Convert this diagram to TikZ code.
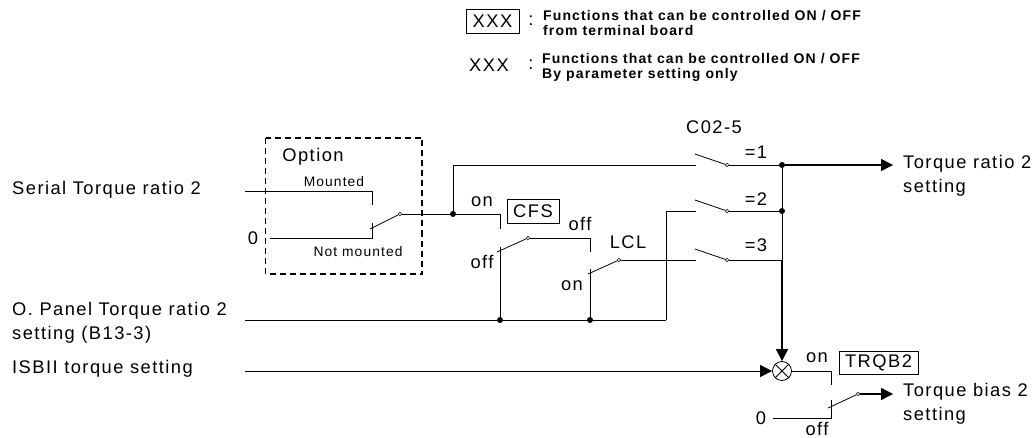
\documentclass[tikz,border=0pt]{standalone}
\usepackage{fontspec}
\setmainfont{Liberation Sans}[LetterSpace=8]
\usetikzlibrary{arrows.meta}
\tikzset{
  wire/.style={line width=0.8pt},
  bus/.style={line width=1pt},
  flow/.style={line width=1.4pt, -{Triangle[length=12pt,width=12pt]}},
  dashbox/.style={line width=1.5pt, dash pattern=on 6pt off 4pt},
  lbl/.style={font=\fontsize{18.3}{24.5}\selectfont, inner sep=0pt},
  lblsmall/.style={font=\fontsize{13.8}{14}\selectfont, inner sep=0pt},
  notebold/.style={font=\fontsize{14}{14.3}\selectfont\bfseries, inner sep=0pt, anchor=west, align=left},
  tagbox/.style={draw, line width=0.7pt, inner sep=0pt, font=\fontsize{18.3}{18.3}\selectfont},
  contact/.style={circle, draw, fill=white, line width=0.6pt, inner sep=0pt, minimum size=3.5pt},
  joint/.style={circle, fill=black, inner sep=0pt, minimum size=6pt}
}

\begin{document}
\begin{tikzpicture}[x=1pt,y=-1pt]
\useasboundingbox (0,0) rectangle (1035,438);

% Legend
\node[tagbox, minimum width=53pt, minimum height=24pt] (legendbox) at (492.5,21) {XXX};
\node[lbl] (legendcolona) at (531,21) {:};
\node[notebold] (legenda) at (543,23) {Functions that can be controlled ON / OFF\\from terminal board};
\node[lbl] (legendplain) at (489,65) {XXX};
\node[lbl] (legendcolonb) at (531,65) {:};
\node[notebold] (legendb) at (542,67.5) {Functions that can be controlled ON / OFF\\By parameter setting only};

% Left labels
\node[lbl, anchor=west] (serial) at (12,190) {Serial Torque ratio 2};
\node[lbl, anchor=west, align=left] (panel) at (12,323) {O. Panel Torque ratio 2\\setting (B13-3)};
\node[lbl, anchor=west] (isbii) at (12,369) {ISBII torque setting};
\node[lbl] (zeroa) at (253,238) {0};

% Option box
\draw[dashbox] (265.5,138) rectangle (422,274);
\node[lbl] (option) at (313,157) {Option};
\node[lblsmall] (mounted) at (334,182) {Mounted};
\node[lblsmall] (notmounted) at (358,252) {Not mounted};

\coordinate (sera) at (245,191);
\coordinate (serb) at (372,191);
\coordinate (serc) at (372,205);
\coordinate (zra) at (270,238);
\coordinate (zrb) at (372,238);
\coordinate (zrc) at (372,223);
\coordinate (opta) at (370,229);
\node[contact] (optc) at (400,214) {};
\node[joint] (jopt) at (453,214) {};

\draw[wire] (sera) -- (serb) -- (serc);
\draw[wire] (zra) -- (zrb) -- (zrc);
\draw[wire] (opta) -- (optc);
\draw[wire] (optc) -- (jopt);

% CFS switch
\node[lbl] (cfson) at (482,202) {on};
\node[lbl] (cfsoff) at (482,262) {off};
\node[lbl] (cfsoffb) at (580,224) {off};
\node[tagbox, minimum width=52pt, minimum height=24pt] (cfs) at (533,211) {CFS};
\coordinate (cfsa) at (500,214);
\coordinate (cfsb) at (500,229);
\coordinate (cfsc) at (500,247);
\coordinate (cfsd) at (497,252);
\node[contact] (cfse) at (528,238) {};
\coordinate (cfsf) at (590,238);
\coordinate (cfsg) at (590,252);
\node[joint] (jcfs) at (500,320) {};

\draw[wire] (jopt) -- (cfsa) -- (cfsb);
\draw[wire] (jcfs) -- (cfsc);
\draw[wire] (cfsd) -- (cfse);
\draw[wire] (cfse) -- (cfsf) -- (cfsg);

% LCL switch
\node[lbl] (lcl) at (628,242) {LCL};
\node[lbl] (lclon) at (572,286) {on};
\coordinate (lcla) at (590,269);
\coordinate (lclb) at (588,274);
\node[contact] (lclc) at (619,260) {};
\node[joint] (jlcl) at (590,320) {};

\draw[bus] (jlcl) -- (lcla);
\draw[wire] (lclb) -- (lclc);

% O. Panel line
\coordinate (pana) at (245,320);
\coordinate (panb) at (666,320);
\coordinate (panc) at (666,211);
\draw[bus] (pana) -- (jcfs) -- (jlcl) -- (panb);
\draw[wire] (panb) -- (panc);

% C02-5 selector
\node[lbl] (sel) at (714,127) {C02-5};
\node[lbl] (sela) at (756,152) {=1};
\node[lbl] (selb) at (756,199) {=2};
\node[lbl] (selc) at (756,245) {=3};

\coordinate (upa) at (453,165);
\coordinate (upb) at (696,165);
\coordinate (swa) at (695,154);
\coordinate (swb) at (695,200);
\coordinate (swc) at (695,249);
\coordinate (ina) at (696,211);
\coordinate (inc) at (696,260);
\node[contact] (cona) at (727,165) {};
\node[contact] (conb) at (727,211) {};
\node[contact] (conc) at (727,260) {};
\node[joint] (ja) at (782,165) {};
\node[joint] (jb) at (782,211) {};
\coordinate (jc) at (782,260);

\draw[wire] (jopt) -- (upa) -- (upb);
\draw[wire] (panc) -- (ina);
\draw[wire] (lclc) -- (inc);
\draw[wire] (swa) -- (cona);
\draw[wire] (swb) -- (conb);
\draw[wire] (swc) -- (conc);
\draw[wire] (cona) -- (ja);
\draw[wire] (conb) -- (jb);
\draw[wire] (conc) -- (jc);
\draw[wire] (ja) -- (jb) -- (jc);

% Torque ratio output
\node[lbl, anchor=west, align=left] (ratio) at (903,176) {Torque ratio 2\\setting};
\coordinate (ratioend) at (893,165);
\draw[flow] (ja) -- (ratioend);

% Multiplier
\node[circle, draw, line width=0.8pt, inner sep=0pt, minimum size=19pt] (mix) at (782,371) {};
\draw[wire] (mix.45) -- (mix.225);
\draw[wire] (mix.135) -- (mix.315);
\coordinate (isbstart) at (245,371);
\draw[wire, -{Triangle[length=12pt,width=12pt]}] (isbstart) -- (mix);
\draw[flow] (jc) -- (mix);

% TRQB2 switch
\node[lbl] (trqon) at (817,358) {on};
\node[lbl] (trqoff) at (817,429) {off};
\node[lbl] (zerob) at (761,418) {0};
\node[tagbox, minimum width=79pt, minimum height=23pt] (trqbox) at (878.5,362.5) {TRQB2};
\coordinate (trqa) at (831,371);
\coordinate (trqb) at (831,385);
\coordinate (trqc) at (773,418);
\coordinate (trqd) at (831,418);
\coordinate (trqe) at (831,400);
\coordinate (trqf) at (828,408);
\node[contact] (trqg) at (858,394) {};
\coordinate (trqend) at (893,394);

\draw[wire] (mix) -- (trqa) -- (trqb);
\draw[wire] (trqc) -- (trqd) -- (trqe);
\draw[wire] (trqf) -- (trqg);
\draw[flow] (trqg) -- (trqend);

% Torque bias output
\node[lbl, anchor=west, align=left] (bias) at (903,404) {Torque bias 2\\setting};

\end{tikzpicture}
\end{document}
